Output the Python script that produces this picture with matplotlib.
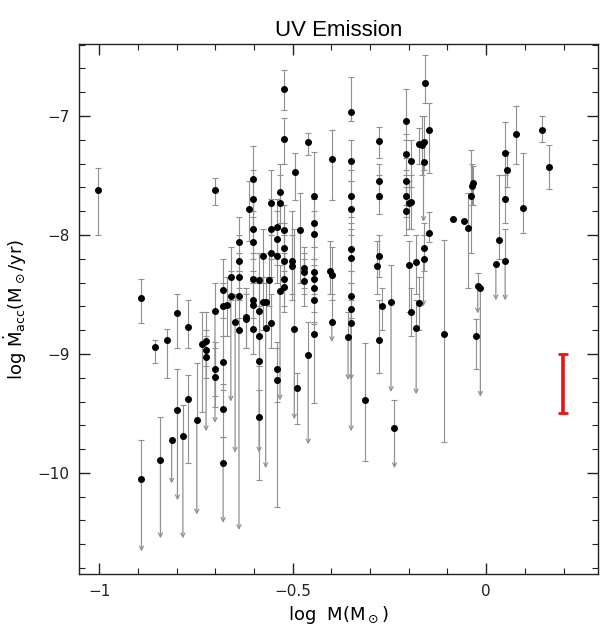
import numpy as np
import matplotlib
matplotlib.use('Agg')
import matplotlib.pyplot as plt
from matplotlib.ticker import MultipleLocator, FuncFormatter

# log M, log Macc, top of bar, bottom of bar (or arrow tip), upper limit flag
log_m = [-1.003, -0.891, -0.856, -0.826, -0.798, -0.772, -0.735, -0.724, -0.724, -0.724,
         -0.891, -0.842, -0.813, -0.798, -0.784, -0.772, -0.748, -0.701, -0.523, -0.523,
         -0.460, -0.495, -0.482, -0.604, -0.604, -0.612, -0.604, -0.604, -0.604, -0.604,
         -0.604, -0.555, -0.555, -0.555, -0.533, -0.533, -0.540, -0.540, -0.523, -0.523,
         -0.540, -0.523, -0.523, -0.533, -0.523, -0.503, -0.503, -0.578, -0.562, -0.587,
         -0.587, -0.578, -0.570, -0.639, -0.639, -0.639, -0.639, -0.660, -0.660, -0.680,
         -0.680, -0.669, -0.701, -0.621, -0.471, -0.471, -0.471, -0.649, -0.639, -0.621,
         -0.604, -0.587, -0.587, -0.587, -0.570, -0.555, -0.540, -0.540, -0.496, -0.490,
         -0.460, -0.701, -0.701, -0.680, -0.680, -0.680, -0.349, -0.399, -0.349, -0.349,
         -0.349, -0.349, -0.349, -0.349, -0.349, -0.445, -0.445, -0.445, -0.445, -0.445,
         -0.445, -0.445, -0.405, -0.399, -0.276, -0.276, -0.276, -0.276, -0.283, -0.269,
         -0.246, -0.207, -0.207, -0.207, -0.207, -0.200, -0.207, -0.194, -0.200, -0.181,
         -0.194, -0.174, -0.445, -0.399, -0.349, -0.357, -0.314, -0.278, -0.237, -0.181,
         -0.174, -0.157, -0.149, -0.166, -0.162, -0.162, -0.194, -0.149, -0.162, -0.162,
         -0.087, -0.057, -0.046, -0.039, -0.037, -0.033, -0.022, -0.015, -0.108, 0.032,
         0.025, 0.049, 0.055, 0.049, 0.049, 0.078, 0.094, 0.145, 0.162, -0.027]

log_macc = [-7.62, -8.53, -8.94, -8.88, -8.66, -8.77, -8.92, -8.89, -8.97, -9.03,
            -10.05, -9.89, -9.72, -9.47, -9.69, -9.38, -9.555, -7.62, -6.77, -7.19,
            -7.215, -7.47, -7.96, -7.53, -7.70, -7.78, -7.95, -8.06, -8.37, -8.545,
            -8.59, -7.73, -7.95, -8.15, -7.64, -7.73, -7.935, -8.03, -7.96, -8.11,
            -8.18, -8.22, -8.37, -8.47, -8.44, -8.22, -8.26, -8.18, -8.38, -8.38,
            -8.64, -8.565, -8.565, -8.06, -8.22, -8.35, -8.51, -8.35, -8.51, -8.46,
            -8.60, -8.59, -8.64, -8.69, -8.28, -8.31, -8.39, -8.73, -8.80, -8.71,
            -8.79, -8.85, -9.06, -9.53, -8.78, -8.74, -9.13, -9.22, -8.79, -9.29,
            -9.01, -9.13, -9.19, -9.07, -9.46, -9.92, -6.97, -7.36, -7.375, -7.67,
            -7.78, -8.12, -8.19, -8.51, -8.62, -7.67, -7.90, -7.99, -8.31, -8.37,
            -8.45, -8.545, -8.30, -8.34, -7.21, -7.55, -7.67, -8.18, -8.26, -8.60,
            -8.56, -7.04, -7.32, -7.55, -7.67, -7.73, -7.80, -7.375, -8.25, -8.23,
            -8.65, -7.235, -8.83, -8.73, -8.74, -8.86, -9.39, -8.88, -9.62, -8.78,
            -8.57, -6.725, -7.12, -7.24, -7.22, -7.39, -7.72, -7.98, -8.11, -8.20,
            -7.87, -7.88, -7.94, -7.67, -7.59, -7.56, -8.43, -8.45, -8.83, -8.04,
            -8.24, -7.31, -7.45, -7.70, -8.22, -7.15, -7.775, -7.12, -7.43, -8.85]

macc_hi = [-7.44, -8.37, -8.88, -8.79, -8.50, -8.55, -8.65, -8.65, -8.80, -8.85,
           -9.72, -9.53, -9.72, -9.13, -9.43, -9.18, -9.08, -7.52, -6.61, -7.02,
           -7.14, -7.31, -7.65, -7.25, -7.45, -7.55, -7.70, -7.85, -8.15, -8.35,
           -8.40, -7.45, -7.70, -7.95, -7.40, -7.50, -7.70, -7.80, -7.75, -7.90,
           -7.95, -8.00, -8.15, -8.25, -8.20, -7.80, -8.00, -7.95, -8.15, -8.15,
           -8.40, -8.35, -8.35, -7.85, -8.00, -8.15, -8.30, -8.10, -8.30, -8.20,
           -8.40, -8.35, -8.40, -8.45, -8.10, -8.15, -8.20, -8.50, -8.55, -8.50,
           -8.55, -8.60, -8.85, -9.30, -8.55, -8.50, -8.90, -8.95, -7.95, -9.16,
           -8.73, -8.90, -8.95, -8.85, -9.25, -9.70, -6.67, -7.12, -7.20, -7.45,
           -7.55, -7.90, -7.95, -8.30, -8.40, -7.30, -7.70, -7.80, -8.10, -8.20,
           -8.25, -8.35, -8.05, -8.10, -7.09, -7.40, -7.50, -8.00, -8.05, -8.45,
           -8.25, -6.775, -7.15, -7.35, -7.45, -7.55, -7.60, -7.20, -8.05, -8.00,
           -8.45, -7.10, -8.73, -8.50, -8.55, -8.65, -8.91, -8.55, -9.39, -8.55,
           -8.35, -6.49, -6.89, -7.00, -7.00, -7.20, -7.50, -7.81, -7.90, -8.00,
           -7.87, -7.88, -7.65, -7.29, -7.40, -7.42, -8.32, -8.45, -8.04, -7.50,
           -8.24, -7.05, -7.30, -7.50, -7.95, -6.92, -7.31, -7.00, -7.24, -8.71]

macc_lo = [-8.00, -8.74, -9.08, -9.20, -8.95, -8.95, -9.49, -9.65, -9.10, -9.20,
           -10.66, -10.55, -10.09, -10.23, -10.55, -9.92, -10.35, -7.75, -6.95, -7.40,
           -7.33, -7.71, -8.40, -7.80, -7.95, -8.05, -8.20, -8.30, -8.55, -8.70,
           -8.80, -8.00, -8.20, -8.35, -7.90, -7.95, -8.15, -8.25, -8.20, -8.30,
           -8.40, -8.45, -8.60, -9.39, -8.65, -8.50, -8.55, -8.40, -8.60, -8.60,
           -8.85, -8.80, -8.80, -8.30, -8.45, -8.55, -8.70, -8.55, -9.40, -8.70,
           -8.85, -8.85, -9.58, -8.95, -8.45, -8.50, -8.60, -9.83, -10.48, -8.95,
           -9.00, -9.10, -9.83, -10.06, -9.96, -8.95, -9.40, -10.29, -9.55, -9.59,
           -9.76, -9.35, -9.45, -9.30, -9.70, -10.42, -7.04, -7.71, -7.55, -7.85,
           -8.00, -8.30, -8.40, -8.70, -9.22, -7.90, -8.10, -8.20, -8.50, -8.55,
           -8.65, -8.75, -8.50, -8.55, -7.35, -7.70, -7.82, -8.35, -8.50, -8.80,
           -9.32, -7.20, -7.50, -7.75, -7.85, -7.95, -8.00, -7.60, -8.65, -8.50,
           -8.85, -7.40, -9.41, -8.90, -9.65, -9.22, -9.90, -9.16, -9.96, -9.34,
           -8.80, -6.89, -7.48, -7.50, -7.45, -7.89, -7.95, -8.06, -8.30, -8.60,
           -7.87, -7.88, -8.45, -8.15, -7.75, -7.75, -8.66, -9.36, -9.74, -8.20,
           -8.55, -7.50, -7.60, -7.90, -8.55, -7.40, -7.98, -7.22, -7.61, -9.13]

upper_limit = [0, 0, 0, 0, 0, 0, 0, 1, 0, 0,
               1, 1, 1, 1, 1, 0, 1, 0, 0, 0,
               0, 0, 0, 0, 0, 0, 0, 0, 0, 0,
               0, 0, 0, 0, 0, 0, 0, 0, 0, 0,
               0, 0, 0, 1, 0, 0, 0, 0, 0, 0,
               0, 0, 0, 0, 0, 0, 0, 0, 1, 0,
               0, 0, 1, 0, 0, 0, 0, 1, 1, 0,
               0, 0, 1, 0, 1, 0, 0, 0, 1, 0,
               1, 0, 0, 0, 0, 1, 0, 0, 0, 0,
               0, 0, 0, 0, 1, 0, 0, 0, 0, 0,
               0, 0, 0, 0, 0, 0, 0, 0, 0, 0,
               1, 0, 0, 0, 0, 0, 0, 0, 0, 0,
               0, 0, 0, 1, 1, 1, 0, 0, 1, 1,
               0, 0, 0, 0, 0, 1, 0, 0, 0, 1,
               0, 0, 0, 0, 0, 0, 1, 1, 0, 0,
               1, 0, 0, 0, 1, 0, 0, 0, 0, 0]

# typical uncertainty bar (red)
typ_x = 0.198
typ_y = -9.25
typ_err = 0.25

x = np.array(log_m)
y = np.array(log_macc)
hi = np.array(macc_hi)
lo = np.array(macc_lo)
lim = np.array(upper_limit, dtype=bool)

plt.rcParams['font.family'] = ['DejaVu Sans']
fig = plt.figure(figsize=(6.0, 6.34), dpi=100)
ax = fig.add_axes([0.132, 0.0946, 0.864, 0.836])

bar_col = '#909090'
# detections: full bars with caps at both ends
n = ~lim
ax.errorbar(x[n], y[n], yerr=[y[n] - lo[n], hi[n] - y[n]], fmt='none',
            ecolor=bar_col, elinewidth=0.8, capsize=2.0, capthick=0.8, zorder=2)
# upper limits: cap on top, arrow down
ax.errorbar(x[lim], y[lim], yerr=[np.zeros(lim.sum()), hi[lim] - y[lim]], fmt='none',
            ecolor=bar_col, elinewidth=0.8, capsize=2.0, capthick=0.8, zorder=2)
for xi, yi, li in zip(x[lim], y[lim], lo[lim]):
    ax.annotate('', xy=(xi, li), xytext=(xi, yi),
                arrowprops=dict(arrowstyle='->', color=bar_col, lw=0.9,
                                shrinkA=0, shrinkB=0, mutation_scale=7),
                zorder=2)
ax.plot(x, y, 'o', color='black', markersize=4.0, zorder=3)

ax.errorbar([typ_x], [typ_y], yerr=typ_err, fmt='none', ecolor='#ee1111',
            elinewidth=2.6, capsize=3.5, capthick=2.0, zorder=4)

ax.set_xlim(-1.052, 0.288)
ax.set_ylim(-10.85, -6.395)
ax.xaxis.set_major_locator(MultipleLocator(0.5))
ax.xaxis.set_minor_locator(MultipleLocator(0.1))
ax.yaxis.set_major_locator(MultipleLocator(1))
ax.yaxis.set_minor_locator(MultipleLocator(0.2))
fmt = FuncFormatter(lambda v, p: ('%g' % v).replace('-', '\u2212'))
ax.xaxis.set_major_formatter(fmt)
ax.yaxis.set_major_formatter(fmt)
ax.tick_params(which='both', direction='in', top=True, right=True, labelsize=11,
               colors='#222222')
ax.tick_params(which='major', length=8, width=1.0, pad=7)
ax.tick_params(which='minor', length=4, width=0.8)
for s in ax.spines.values():
    s.set_linewidth(1.0)
    s.set_color('#222222')

ax.set_xlabel(r'log  M(M$_\odot$)', fontsize=13, labelpad=4)
ax.set_ylabel(r'log $\dot{\rm M}_{\rm acc}$(M$_\odot$/yr)', fontsize=13, labelpad=6)
ax.set_title('UV Emission', fontsize=16, family='Liberation Sans', pad=6)

fig.savefig('out.png', dpi=100)
